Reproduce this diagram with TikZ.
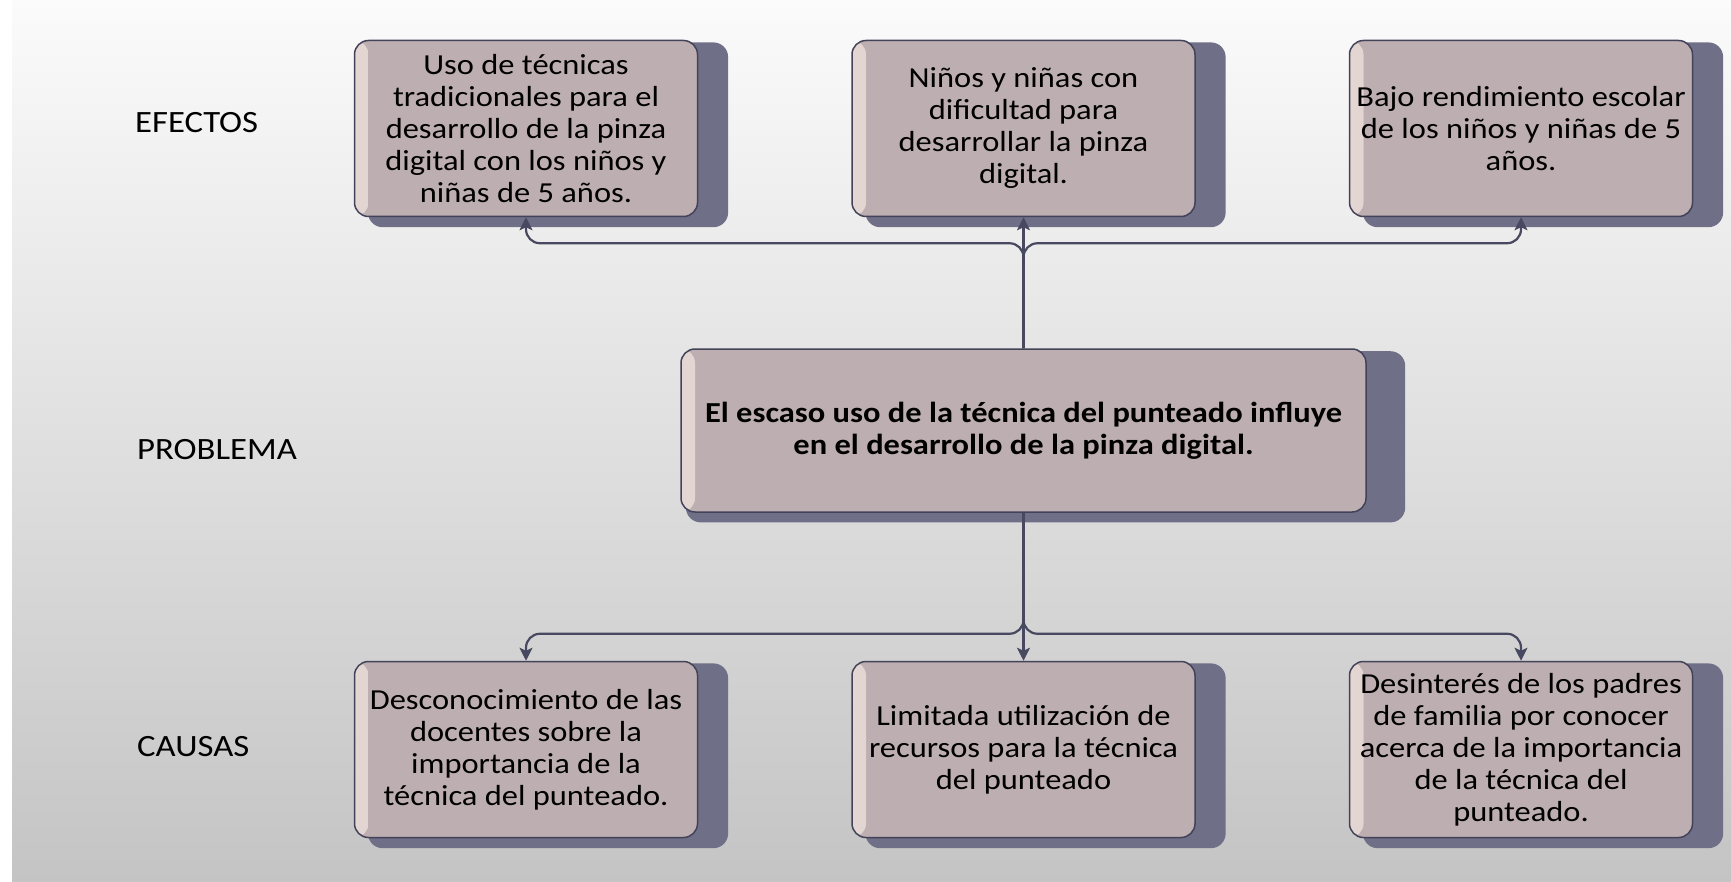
\documentclass[tikz,border=0pt]{standalone}
\usepackage{fontspec}
\setmainfont{Carlito}[FakeStretch=1.12]
\usetikzlibrary{arrows.meta,positioning,shadows}
\definecolor{boxfill}{RGB}{189,174,177}
\definecolor{boxlight}{RGB}{228,214,210}
\definecolor{boxline}{RGB}{66,66,88}
\definecolor{shadowslate}{RGB}{111,112,136}
\definecolor{linkcol}{RGB}{72,72,96}
\definecolor{bgtop}{RGB}{251,251,251}
\definecolor{bgbottom}{RGB}{196,196,196}

\begin{document}
\begin{tikzpicture}[
    x=1pt, y=1pt,
    node distance=131pt and 153pt,
    box/.style={rectangle, draw=boxline, line width=1.5pt, fill=boxfill, rounded corners=14pt, minimum width=343pt, minimum height=176pt, inner sep=1pt, align=center, font=\fontsize{29}{32}\selectfont,
      path picture={\shade[left color=boxlight, right color=boxfill] (path picture bounding box.north west) rectangle ([xshift=14pt]path picture bounding box.south west);},
      drop shadow={shadow xshift=21pt, shadow yshift=-6pt, shadow scale=1.05, fill=shadowslate, opacity=1, draw=none}},
    bigbox/.style={box, minimum width=685pt, minimum height=163pt, font=\fontsize{29}{32}\selectfont\bfseries},
    level/.style={anchor=west, inner sep=0pt, font=\fontsize{31}{34}\selectfont},
    link/.style={-{Stealth[length=13pt, width=13pt, inset=3pt]}, line width=2.2pt, draw=linkcol, rounded corners=14pt}
]
% fondo
\fill[white] (0,0) rectangle (1731,-882);
\shade[top color=bgtop, bottom color=bgbottom] (12,0) rectangle (1731,-882);
\useasboundingbox (0,0) rectangle (1731,-882);

% niveles
\node[level] (efectos) at (135,-123) {EFECTOS};
\node[level] (problemalbl) at (137,-450) {PROBLEMA};
\node[level] (causas) at (137,-747) {CAUSAS};

% problema central
\node[bigbox] (problema) at (1023.5,-430.5) {El escaso uso de la técnica del punteado influye\\en el desarrollo de la pinza digital.};

% efectos
\node[box, above=131pt of problema] (efecto2) {Niños y niñas con\\dificultad para\\desarrollar la pinza\\digital.};
\node[box, left=of efecto2] (efecto1) {Uso de técnicas\\tradicionales para el\\desarrollo de la pinza\\digital con los niños y\\niñas de 5 años.};
\node[box, right=of efecto2] (efecto3) {Bajo rendimiento escolar\\de los niños y niñas de 5\\años.};

% causas
\node[box, below=148pt of problema] (causa2) {Limitada utilización de\\recursos para la técnica\\del punteado};
\node[box, left=of causa2] (causa1) {Desconocimiento de las\\docentes sobre la\\importancia de la\\técnica del punteado.};
\node[box, right=of causa2] (causa3) {Desinterés de los padres\\de familia por conocer\\acerca de la importancia\\de la técnica del\\punteado.};

\draw[link] (problema.north) -- (efecto2.south);
\draw[link] (problema.north) -- ++(0,105) -| (efecto1.south);
\draw[link] (problema.north) -- ++(0,105) -| (efecto3.south);
\draw[link] (problema.south) -- (causa2.north);
\draw[link] (problema.south) -- ++(0,-121) -| (causa1.north);
\draw[link] (problema.south) -- ++(0,-121) -| (causa3.north);
\end{tikzpicture}
\end{document}
